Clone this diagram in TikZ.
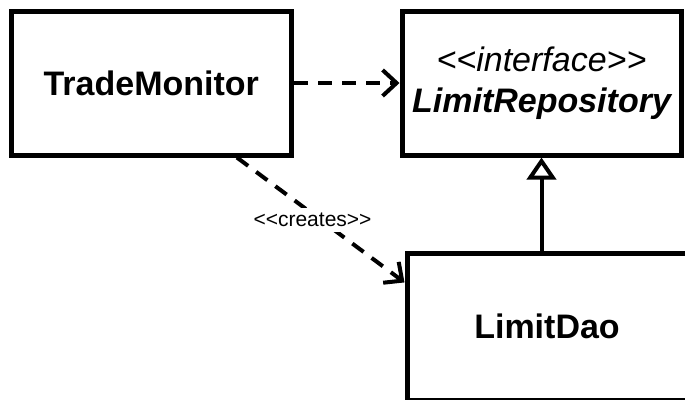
\documentclass[tikz,border=0pt]{standalone}
\usepackage{fontspec}
\setmainfont{Liberation Sans}
\usetikzlibrary{arrows.meta,calc}
\begin{document}
\begin{tikzpicture}[x=1pt,y=-1pt,
  box/.style={draw=black,line width=5pt,fill=white,inner sep=0pt,align=center},
  bigfont/.style={font=\fontsize{34}{41}\selectfont},
  dep/.style={line width=4pt,dash pattern=on 14pt off 10pt,-{Straight Barb[length=14pt,width=26pt,line width=4pt]}},
  gen/.style={line width=4pt,-{Triangle[open,length=22pt,width=29pt,line width=4pt]}},
  lbl/.style={fill=white,inner xsep=2pt,inner ysep=5pt,font=\fontsize{21}{25}\selectfont}]
\useasboundingbox (0,0) rectangle (685,399);
\clip (0,0) rectangle (685,399);
\fill[white] (0,0) rectangle (685,399);
\node[box,bigfont,minimum width=280.5pt,minimum height=144pt] (tm) at (151.25,83) {\bfseries TradeMonitor};
\node[box,bigfont,minimum width=279pt,minimum height=144pt] (lr) at (541.5,83) {\itshape <{}<interface>{}>\\\bfseries\itshape LimitRepository};
\node[box,bigfont,minimum width=280pt,minimum height=147pt] (ld) at (547,326.5) {\bfseries LimitDao};
\draw[dep] (tm.east) -- (lr.west);
\coordinate (cs) at ($(tm.south west)!0.8!(tm.south east)$);
\coordinate (ce) at ($(ld.north west)!0.21!(ld.south west)$);
\draw[dep] (cs) -- (ce);
\node[lbl] (cr) at (312.5,220) {<{}<creates>{}>};
\draw[gen] (ld.north -| lr.south) -- (lr.south);
\end{tikzpicture}
\end{document}
